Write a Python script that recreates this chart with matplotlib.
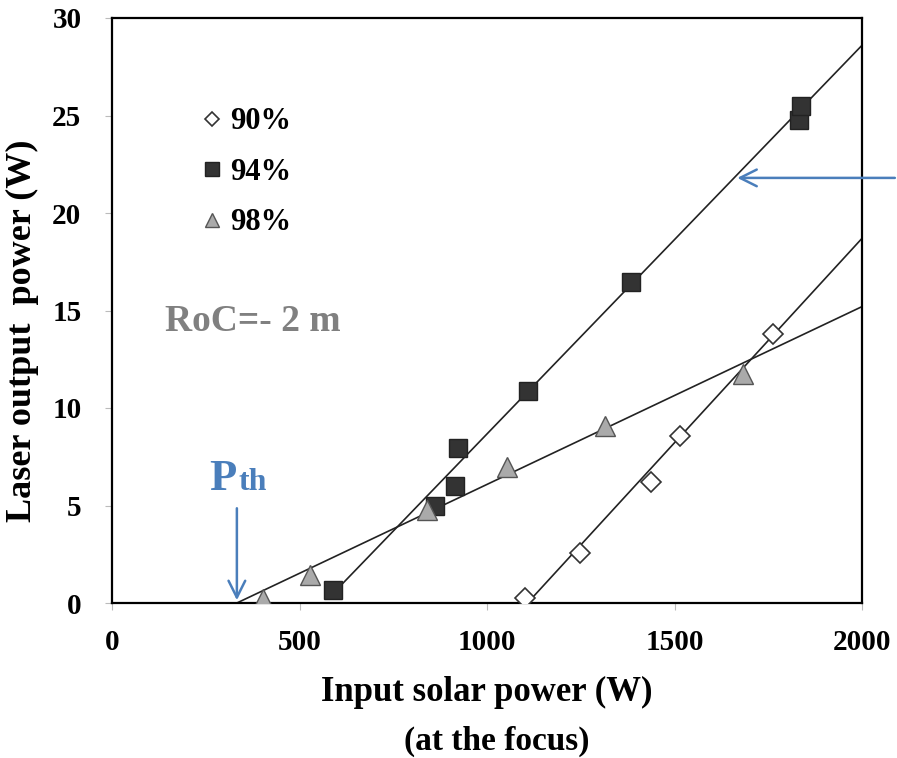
import matplotlib
matplotlib.use("Agg")
import matplotlib.pyplot as plt

plt.rcParams["font.family"] = ["Liberation Serif", "DejaVu Serif"]
plt.rcParams["font.weight"] = "bold"

# data
x90 = [1101, 1248, 1437, 1515, 1763]
y90 = [0.26, 2.57, 6.18, 8.54, 13.8]
x94 = [589, 861, 915, 922, 1108, 1384, 1832, 1838]
y94 = [0.67, 5.0, 6.0, 7.93, 10.85, 16.45, 24.75, 25.5]
x98 = [403, 528, 840, 1053, 1315, 1683]
y98 = [0.2, 1.44, 4.75, 6.95, 9.1, 11.75]

# fitted lines (end points)
fit90_x = [1108, 2000]
fit90_y = [0.0, 18.7]
fit94_x = [580, 2000]
fit94_y = [0.3, 28.6]
fit98_x = [333, 2000]
fit98_y = [0.0, 15.2]

p_th = 333
labels = ["90%", "94%", "98%"]
blue = "#4a7ebb"

fig = plt.figure(figsize=(8.97, 7.58), dpi=100)
ax = fig.add_axes([112 / 897, 1 - 603 / 758, 750 / 897, 585 / 758])

for fx, fy in [(fit90_x, fit90_y), (fit94_x, fit94_y), (fit98_x, fit98_y)]:
    ax.plot(fx, fy, color="#222222", lw=1.2, zorder=2)

ax.plot(x90, y90, ls="none", marker="D", ms=10, mfc="white", mec="#333333",
        mew=1.2, label=labels[0], zorder=3)
ax.plot(x94, y94, ls="none", marker="s", ms=13, mfc="#333333", mec="#222222",
        mew=1.0, label=labels[1], zorder=3)
ax.plot(x98, y98, ls="none", marker="^", ms=14, mfc="#aaaaaa", mec="#555555",
        mew=1.0, label=labels[2], zorder=3)

ax.set_xlim(0, 2000)
ax.set_ylim(0, 30)
ax.set_xticks([0, 500, 1000, 1500, 2000])
ax.set_yticks([0, 5, 10, 15, 20, 25, 30])
ax.tick_params(direction="out", length=5, color="#bbbbbb", labelsize=21, pad=14)
ax.tick_params(axis="y", pad=17)
for lab in ax.get_xticklabels() + ax.get_yticklabels():
    lab.set_fontweight("bold")
for sp in ax.spines.values():
    sp.set_linewidth(1.6)
    sp.set_color("black")

ax.set_xlabel("Input solar power (W)", fontsize=25, fontweight="bold", labelpad=14)
ax.set_ylabel("Laser output  power (W)", fontsize=26, fontweight="bold")
ax.yaxis.set_label_coords(-0.097, 0.465)
fig.text(497 / 897, 1 - 741 / 758, "(at the focus)", fontsize=24, fontweight="bold",
         ha="center", va="center")

leg = ax.legend(loc="upper left", bbox_to_anchor=(0.105, 0.868), frameon=False,
                fontsize=22, handlelength=0.6, handletextpad=0.3,
                labelspacing=0.7, markerscale=0.75, borderaxespad=0)

ax.text(141, 14.46, "RoC=- 2 m", color="#808080", fontsize=27, fontweight="bold",
        va="center", ha="left")

# Pth threshold marker
ax.annotate("", xy=(p_th, 0), xytext=(p_th, 5.0),
            arrowprops=dict(arrowstyle="->", color=blue, lw=1.8, mutation_scale=30))
ax.text(259, 5.8, "P", color=blue, fontsize=32, fontweight="bold", va="baseline", ha="left")
ax.text(338, 5.8, "th", color=blue, fontsize=23, fontweight="bold", va="baseline", ha="left")

# arrow pointing at the 94% line
ax.annotate("", xy=(1660, 21.8), xytext=(2095, 21.8), annotation_clip=False,
            arrowprops=dict(arrowstyle="->", color=blue, lw=1.8, mutation_scale=30))

fig.savefig("out.png", dpi=100)
